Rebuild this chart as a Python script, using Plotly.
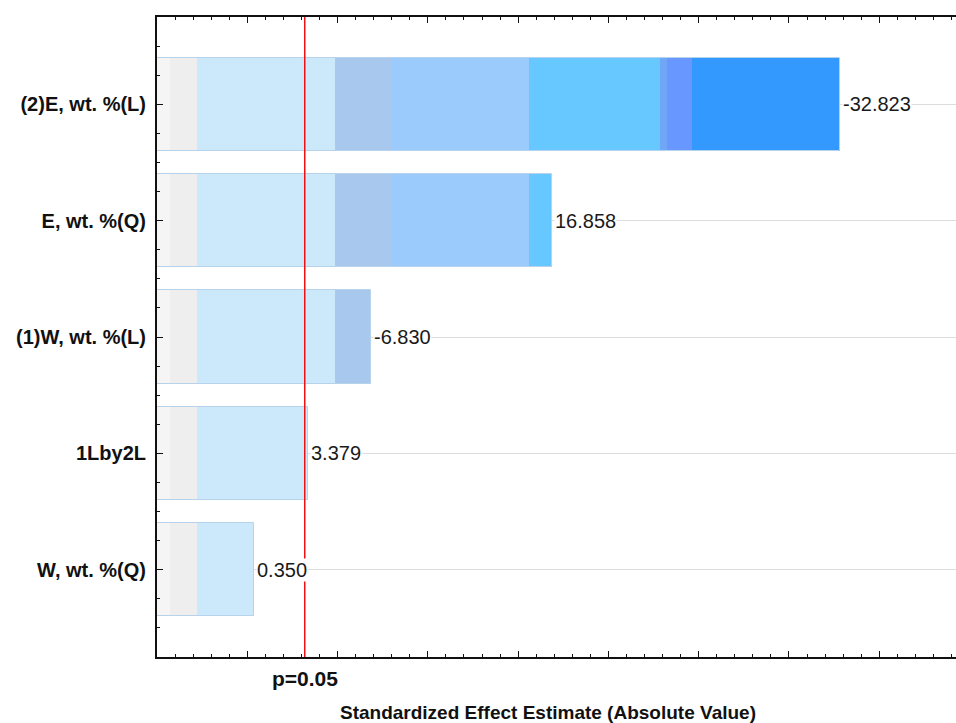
import plotly.graph_objects as go

# Pareto chart of standardized effects
factors = ["(2)E, wt. %(L)", "E, wt. %(Q)", "(1)W, wt. %(L)", "1Lby2L", "W, wt. %(Q)"]
effects = [-32.823, 16.858, -6.830, 3.379, 0.350]
effect_labels = ["-32.823", "16.858", "-6.830", "3.379", "0.350"]
t_crit = 3.182          # critical t value, p = 0.05
p_label = "p=0.05"
x_title = "Standardized Effect Estimate (Absolute Value)"

x_min, x_max = -5.0, 39.25

# colour bands that each bar reveals up to its own length
band_edges = [x_min, -4.26, -2.77, 4.87, 7.97, 15.61, 22.87, 23.26, 24.64, x_max]
band_colors = ["#F5F5F5", "#EEEEEE", "#CCE8FB", "#A9C8EE", "#9ACBFC",
               "#66C8FF", "#6FA6F6", "#6797FF", "#3399FF"]

pos = list(range(len(factors)))
mags = [abs(e) for e in effects]
FONT = "Liberation Sans, Arial, sans-serif"

fig = go.Figure()
for lo, hi, col in zip(band_edges[:-1], band_edges[1:], band_colors):
    lengths = [max(0.0, min(hi, m) - lo) for m in mags]
    fig.add_trace(go.Bar(
        y=pos, x=lengths, base=lo, orientation="h", width=0.8,
        marker=dict(color=col, line=dict(width=0)),
        hoverinfo="skip", showlegend=False))

# thin outline around each bar
fig.add_trace(go.Bar(
    y=pos, x=[m - x_min for m in mags], base=x_min, orientation="h", width=0.8,
    marker=dict(color="rgba(0,0,0,0)", line=dict(color="#B7D3EC", width=1)),
    hoverinfo="skip", showlegend=False))

# significance threshold
fig.add_shape(type="line", x0=t_crit, x1=t_crit, xref="x", y0=0, y1=1, yref="paper",
              line=dict(color="#EE1111", width=1.5), layer="above")

annotations = []
for p, m, lab in zip(pos, mags, effect_labels):
    annotations.append(dict(x=m, y=p, xref="x", yref="y", text=lab, showarrow=False,
                            xanchor="left", yanchor="middle", xshift=2,
                            bgcolor="white", borderpad=0,
                            font=dict(family=FONT, size=20, color="#1A1A1A")))
annotations.append(dict(x=t_crit, y=-0.034, xref="x", yref="paper", text="<b>%s</b>" % p_label,
                        showarrow=False, xanchor="center", yanchor="middle",
                        font=dict(family=FONT, size=21, color="#111111")))
annotations.append(dict(x=(548 - 157) / (956 - 157), y=-0.087, xref="paper", yref="paper",
                        text="<b>%s</b>" % x_title, showarrow=False,
                        xanchor="center", yanchor="middle",
                        font=dict(family=FONT, size=19, color="#111111")))

fig.update_layout(
    width=956, height=723,
    margin=dict(l=157, r=0, t=17, b=66, autoexpand=False),
    paper_bgcolor="white", plot_bgcolor="white",
    barmode="overlay", bargap=0,
    annotations=annotations,
    font=dict(family=FONT),
)

fig.update_xaxes(
    range=[x_min, x_max], showgrid=False, zeroline=False,
    showline=True, linecolor="#111111", linewidth=2, mirror="ticks",
    ticks="inside", tick0=0, dtick=5, ticklen=6, tickcolor="#111111",
    showticklabels=False,
    minor=dict(ticks="inside", dtick=1, tick0=0, ticklen=3, tickcolor="#111111", showgrid=False),
)

fig.update_yaxes(
    range=[len(factors) - 0.25, -0.75], tickmode="array", tickvals=pos, ticktext=factors,
    showgrid=True, gridcolor="#DDDDDD", gridwidth=1, zeroline=False,
    showline=True, linecolor="#111111", linewidth=2,
    ticks="inside", ticklen=6, tickcolor="#111111", ticklabelstandoff=5,
    tickfont=dict(family=FONT, size=20, color="#111111", weight="bold"),
    minor=dict(ticks="inside", dtick=0.25, tick0=0, ticklen=3, tickcolor="#111111", showgrid=False),
    automargin=False,
)

fig.write_html("out.html")
